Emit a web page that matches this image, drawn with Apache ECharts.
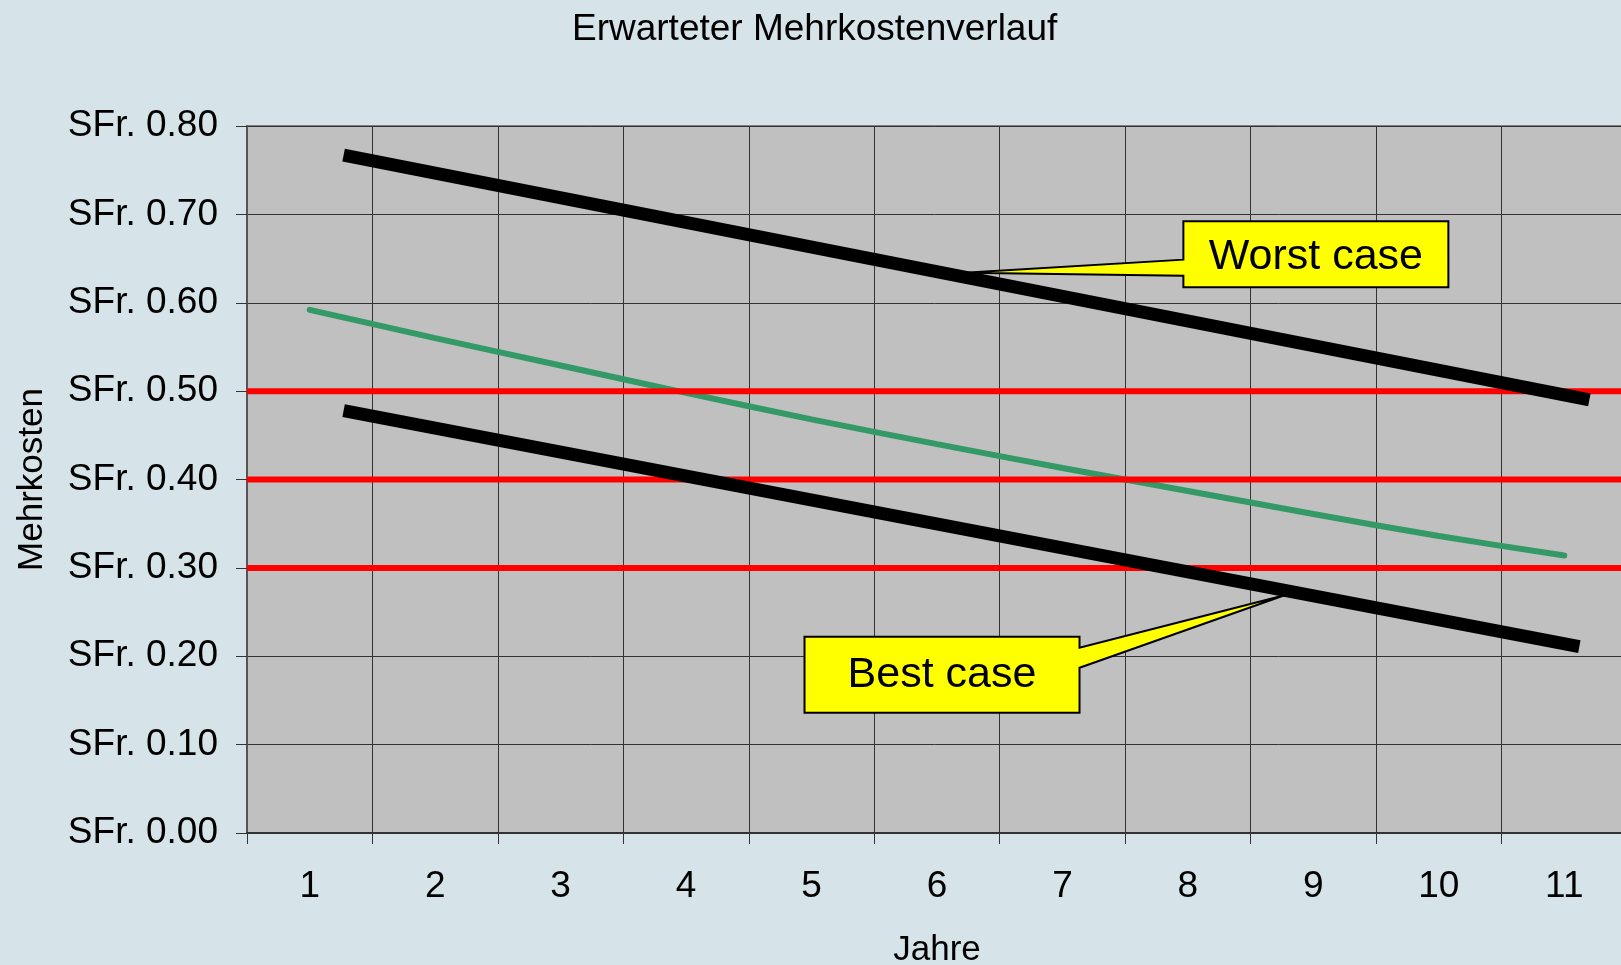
<!DOCTYPE html>
<html>
<head>
<meta charset="utf-8">
<script src="https://cdn.jsdelivr.net/npm/echarts@6/dist/echarts.min.js"></script>
<style>
html,body{margin:0;padding:0;background:#D6E4EA;overflow:hidden;}
#chart{width:1621px;height:965px;}
</style>
</head>
<body>
<div id="chart"></div>
<script>
// ---- data ----
const jahre = ['1','2','3','4','5','6','7','8','9','10','11'];
const erwarteterVerlauf = [0.592, 0.560, 0.529, 0.498, 0.468, 0.440, 0.413, 0.387, 0.361, 0.336, 0.314];
const worstCaseX = [1.27, 11.2];
const worstCaseY = [0.767, 0.490];
const bestCaseX = [1.27, 11.12];
const bestCaseY = [0.478, 0.211];
const grenzwerte = [0.50, 0.40, 0.30];
const yMin = 0, yMax = 0.8, yStep = 0.1;
const xMin = 0.5, xMax = 11.5;
const calloutLabels = ['Worst case', 'Best case'];
const calloutTips = [[6.22, 0.634], [8.77, 0.269]];
const calloutCenters = [[9.02, 0.655], [6.04, 0.179]];

const FONT = 'Liberation Sans, Arial, sans-serif';
const chart = echarts.init(document.getElementById('chart'));

const series = [];
series.push({
  name: 'Erwartet', type: 'line', xAxisIndex: 0, yAxisIndex: 0,
  data: erwarteterVerlauf, smooth: 0.3, showSymbol: false, z: 2,
  lineStyle: {color: '#339966', width: 6, cap: 'round'}
});
grenzwerte.forEach(g => {
  series.push({
    type: 'line', xAxisIndex: 1, yAxisIndex: 0, showSymbol: false, z: 3,
    data: [[xMin, g], [xMax, g]],
    lineStyle: {color: '#FF0000', width: 6}
  });
});
series.push({
  name: 'Worst case', type: 'line', xAxisIndex: 1, yAxisIndex: 0, showSymbol: false, z: 4,
  data: worstCaseX.map((x, i) => [x, worstCaseY[i]]),
  lineStyle: {color: '#000', width: 13, cap: 'butt'}
});
series.push({
  name: 'Best case', type: 'line', xAxisIndex: 1, yAxisIndex: 0, showSymbol: false, z: 4,
  data: bestCaseX.map((x, i) => [x, bestCaseY[i]]),
  lineStyle: {color: '#000', width: 13, cap: 'butt'}
});

chart.setOption({
  animation: false,
  backgroundColor: '#D6E4EA',
  title: {
    text: 'Erwarteter Mehrkostenverlauf',
    left: 567, top: 6,
    textStyle: {fontFamily: FONT, fontSize: 37, fontWeight: 'normal', color: '#000'}
  },
  grid: {
    left: 247, top: 126, width: 1380, height: 707,
    outerBoundsMode: 'none', containLabel: false,
    show: true, backgroundColor: '#C0C0C0', borderColor: '#808080', borderWidth: 2
  },
  xAxis: [{
    type: 'category', data: jahre, boundaryGap: true,
    name: 'Jahre', nameLocation: 'middle', nameGap: 100,
    nameTextStyle: {fontFamily: FONT, fontSize: 35, color: '#000'},
    axisLine: {lineStyle: {color: '#333', width: 2}},
    axisTick: {show: true, interval: 0, length: 11, lineStyle: {color: '#333', width: 1}},
    axisLabel: {interval: 0, margin: 35, fontFamily: FONT, fontSize: 37, color: '#000'},
    splitLine: {show: true, interval: 0, lineStyle: {color: '#333', width: 1}}
  }, {
    type: 'value', min: xMin, max: xMax, show: false
  }],
  yAxis: [{
    type: 'value', min: yMin, max: yMax, interval: yStep,
    name: 'Mehrkosten', nameLocation: 'middle', nameGap: 197, nameRotate: 90,
    nameTextStyle: {fontFamily: FONT, fontSize: 35, color: '#000'},
    axisLine: {show: true, lineStyle: {color: '#555', width: 2}},
    axisTick: {show: true, length: 11, lineStyle: {color: '#333', width: 1}},
    axisLabel: {margin: 29, fontFamily: FONT, fontSize: 37, color: '#000',
      formatter: v => 'SFr. ' + v.toFixed(2)},
    splitLine: {show: true, lineStyle: {color: '#333', width: 1}}
  }],
  series: series
});

// callouts anchored to data coordinates
const boxSizes = [[265, 66], [275, 76]];
const wedgeOffsets = [[5.5, 21.5], [-27, -7]];
const graphics = [];
calloutLabels.forEach((label, i) => {
  const tip = chart.convertToPixel({xAxisIndex: 1, yAxisIndex: 0}, calloutTips[i]);
  const c = chart.convertToPixel({xAxisIndex: 1, yAxisIndex: 0}, calloutCenters[i]);
  const w = boxSizes[i][0], h = boxSizes[i][1];
  const L = c[0] - w / 2, R = c[0] + w / 2, T = c[1] - h / 2, B = c[1] + h / 2;
  const y1 = c[1] + wedgeOffsets[i][0], y2 = c[1] + wedgeOffsets[i][1];
  let pts;
  if (tip[0] < L) {
    pts = [[L, T], [R, T], [R, B], [L, B], [L, y2], tip, [L, y1]];
  } else {
    pts = [[L, T], [R, T], [R, y1], tip, [R, y2], [R, B], [L, B]];
  }
  graphics.push({
    type: 'polygon', z: 100,
    shape: {points: pts},
    style: {fill: '#FFFF00', stroke: '#000', lineWidth: 2}
  });
  graphics.push({
    type: 'text', z: 101, x: c[0], y: c[1] + (i === 0 ? 3 : 0),
    style: {text: label, fontFamily: FONT, fontSize: 43, fill: '#000',
      align: 'center', verticalAlign: 'middle'}
  });
});
chart.setOption({graphic: graphics});
</script>
</body>
</html>
